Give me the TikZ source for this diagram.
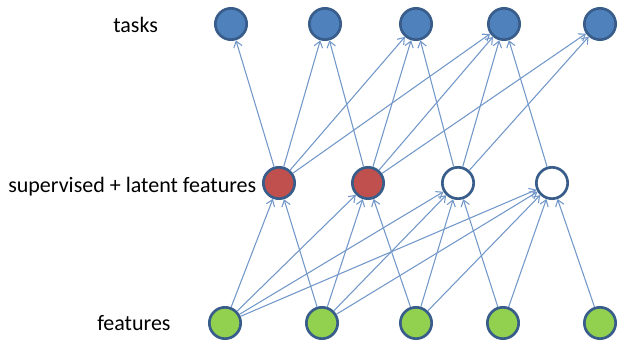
\documentclass[tikz,border=0pt]{standalone}
\usepackage{fontspec}
\setmainfont{Carlito}
\usetikzlibrary{arrows.meta}
\definecolor{taskblue}{HTML}{4F81BD}
\definecolor{rimblue}{HTML}{385D8A}
\definecolor{latred}{HTML}{C0504D}
\definecolor{featgreen}{HTML}{92D050}
\definecolor{edgeblue}{HTML}{7297C9}
\tikzset{
  unit/.style={circle, draw=rimblue, line width=2pt, minimum size=23.5pt, inner sep=0pt},
  tasknode/.style={unit, fill=taskblue},
  supnode/.style={unit, fill=latred},
  latnode/.style={unit, fill=white},
  featnode/.style={unit, fill=featgreen},
  conn/.style={draw=edgeblue, line width=0.8pt, -{Straight Barb[length=4.5pt,width=6.5pt]}},
  lbl/.style={anchor=base west, inner sep=0pt, font=\fontsize{16.5pt}{19pt}\selectfont}
}
\begin{document}
\begin{tikzpicture}[x=0.75pt,y=-0.75pt]
\useasboundingbox (0,0) rectangle (617,342);
% labels
\node[lbl] (ltask) at (113,33) {tasks};
\node[lbl] (lsup) at (8,192) {supervised + latent features};
\node[lbl] (lfeat) at (97,330) {features};
% tasks
\node[tasknode] (t1) at (231,24) {};
\node[tasknode] (t2) at (325,24) {};
\node[tasknode] (t3) at (416,24) {};
\node[tasknode] (t4) at (504,24) {};
\node[tasknode] (t5) at (600,24) {};
% middle
\node[supnode] (m1) at (279,183) {};
\node[supnode] (m2) at (368,183) {};
\node[latnode] (m3) at (458,183) {};
\node[latnode] (m4) at (552,183) {};
% features
\node[featnode] (f1) at (225,323) {};
\node[featnode] (f2) at (322,323) {};
\node[featnode] (f3) at (416,323) {};
\node[featnode] (f4) at (503,323) {};
\node[featnode] (f5) at (600,323) {};
% middle -> tasks
\foreach \t in {t1,t2,t3,t4} \draw[conn] (m1) -- (\t);
\foreach \t in {t2,t3,t4,t5} \draw[conn] (m2) -- (\t);
\foreach \t in {t3,t4,t5} \draw[conn] (m3) -- (\t);
\draw[conn] (m4) -- (t4);
% features -> middle
\foreach \m in {m1,m2,m3,m4} \draw[conn] (f1) -- (\m);
\foreach \m in {m1,m2,m3,m4} \draw[conn] (f2) -- (\m);
\foreach \m in {m2,m3,m4} \draw[conn] (f3) -- (\m);
\foreach \m in {m3,m4} \draw[conn] (f4) -- (\m);
\draw[conn] (f5) -- (m4);
\end{tikzpicture}
\end{document}
